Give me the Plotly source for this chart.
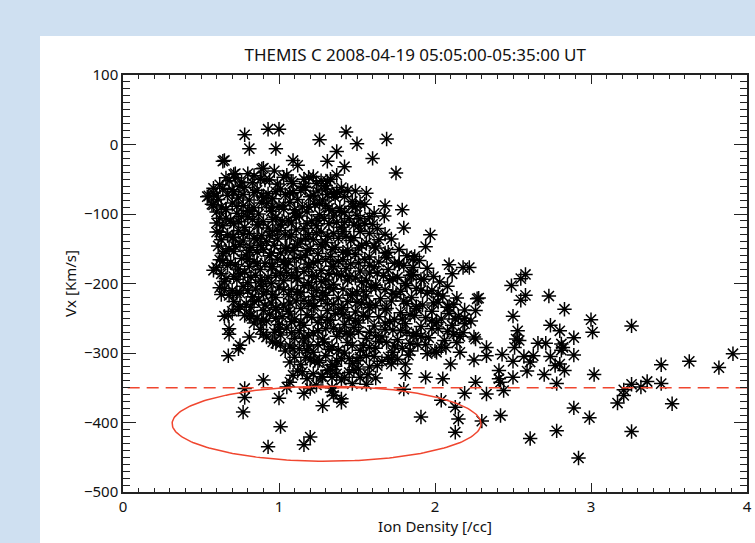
import numpy as np
import plotly.graph_objects as go

TITLE = "THEMIS C 2008-04-19 05:05:00-05:35:00 UT"
X_TITLE = "Ion Density [/cc]"
Y_TITLE = "Vx [Km/s]"
x_ticks = [0, 1, 2, 3, 4]
y_ticks = [-500, -400, -300, -200, -100, 0, 100]

# dense core of the scatter, row by row
density_core = [
    0.72, 0.80, 0.88, 0.97, 1.05, 1.12, 1.19, 1.27,
    0.62, 0.68, 0.75, 0.83, 0.91, 0.99, 1.08, 1.16, 1.24, 1.33, 1.40,
    0.58, 0.64, 0.71, 0.78, 0.86, 0.93, 1.01, 1.09, 1.17, 1.25, 1.31, 1.44,
    0.55, 0.61, 0.67, 0.74, 0.81, 0.89, 0.96, 1.04, 1.12, 1.20, 1.28, 1.36, 1.47,
    0.57, 0.63, 0.70, 0.77, 0.84, 0.92, 1.00, 1.07, 1.15, 1.23, 1.30, 1.39, 1.52,
    0.60, 0.66, 0.73, 0.80, 0.87, 0.95, 1.03, 1.10, 1.18, 1.26, 1.34, 1.42, 1.50,
    0.62, 0.69, 0.76, 0.83, 0.90, 0.98, 1.06, 1.13, 1.21, 1.29, 1.37, 1.45, 1.58,
    0.64, 0.71, 0.78, 0.86, 0.93, 1.01, 1.08, 1.16, 1.24, 1.32, 1.40, 1.48, 1.63,
    0.60, 0.67, 0.74, 0.81, 0.89, 0.96, 1.04, 1.11, 1.19, 1.27, 1.35, 1.43, 1.52, 1.68,
    0.63, 0.70, 0.77, 0.84, 0.92, 0.99, 1.07, 1.14, 1.22, 1.30, 1.38, 1.46, 1.56, 1.72,
    0.61, 0.68, 0.75, 0.82, 0.90, 0.97, 1.05, 1.12, 1.20, 1.28, 1.36, 1.44, 1.53, 1.62, 1.77,
    0.64, 0.71, 0.79, 0.86, 0.94, 1.01, 1.09, 1.17, 1.25, 1.33, 1.41, 1.49, 1.58, 1.68, 1.82,
    0.62, 0.69, 0.76, 0.84, 0.91, 0.99, 1.06, 1.14, 1.22, 1.30, 1.38, 1.46, 1.55, 1.64, 1.74, 1.90,
    0.60, 0.67, 0.74, 0.81, 0.88, 0.96, 1.04, 1.11, 1.19, 1.27, 1.35, 1.43, 1.52, 1.61, 1.70, 1.80, 1.95,
    0.63, 0.71, 0.78, 0.85, 0.93, 1.01, 1.08, 1.16, 1.24, 1.32, 1.40, 1.49, 1.58, 1.67, 1.76, 1.86, 1.99,
    0.65, 0.73, 0.80, 0.88, 0.95, 1.03, 1.11, 1.19, 1.27, 1.35, 1.44, 1.53, 1.62, 1.71, 1.81, 1.91, 2.03,
    0.62, 0.70, 0.77, 0.85, 0.92, 1.00, 1.08, 1.16, 1.24, 1.32, 1.41, 1.50, 1.59, 1.68, 1.78, 1.88, 1.98, 2.08,
    0.68, 0.75, 0.83, 0.90, 0.98, 1.06, 1.14, 1.22, 1.30, 1.38, 1.47, 1.56, 1.65, 1.75, 1.85, 1.95, 2.05, 2.14,
    0.71, 0.79, 0.87, 0.95, 1.03, 1.11, 1.19, 1.27, 1.35, 1.44, 1.53, 1.62, 1.72, 1.82, 1.92, 2.02, 2.12,
    0.74, 0.82, 0.90, 0.98, 1.06, 1.14, 1.22, 1.31, 1.40, 1.49, 1.58, 1.68, 1.78, 1.88, 1.98, 2.08, 2.19,
    0.78, 0.86, 0.94, 1.02, 1.10, 1.18, 1.27, 1.36, 1.45, 1.54, 1.64, 1.74, 1.84, 1.94, 2.04, 2.15,
    0.84, 0.92, 1.00, 1.08, 1.16, 1.25, 1.33, 1.42, 1.51, 1.61, 1.71, 1.81, 1.91, 2.01, 2.11, 2.23,
    0.88, 0.97, 1.05, 1.13, 1.22, 1.30, 1.39, 1.48, 1.58, 1.68, 1.78, 1.88, 1.98, 2.08, 2.18,
    0.92, 1.01, 1.10, 1.19, 1.28, 1.37, 1.46, 1.56, 1.66, 1.76, 1.86, 1.96, 2.06, 2.16, 2.26,
    0.98, 1.07, 1.16, 1.25, 1.34, 1.44, 1.54, 1.64, 1.74, 1.84, 1.94, 2.04, 2.14,
    1.04, 1.13, 1.22, 1.32, 1.42, 1.52, 1.62, 1.73, 1.84, 1.95,
    1.10, 1.20, 1.30, 1.40, 1.50, 1.61, 1.72, 1.83,
    1.14, 1.25, 1.36, 1.47, 1.58, 1.72,
    1.12, 1.22, 1.33, 1.45, 1.57,
    1.18, 1.28, 1.40, 1.52,
    1.24, 1.34, 1.47,
]
vx_core = [
    -48, -42, -50, -38, -44, -30, -47, -52,
    -58, -52, -60, -55, -51, -57, -53, -60, -56, -50, -62,
    -70, -63, -68, -62, -66, -71, -64, -69, -62, -67, -72, -66,
    -74, -79, -73, -77, -80, -74, -78, -72, -79, -75, -80, -76, -82,
    -86, -90, -84, -88, -91, -85, -89, -83, -90, -86, -88, -92, -85,
    -97, -94, -99, -95, -100, -96, -93, -99, -97, -101, -95, -98, -102,
    -106, -110, -104, -108, -111, -105, -109, -103, -110, -106, -112, -107, -104,
    -117, -114, -119, -115, -120, -116, -113, -121, -117, -114, -119, -116, -121,
    -126, -130, -124, -128, -131, -125, -129, -123, -130, -126, -128, -132, -125, -129,
    -137, -134, -139, -135, -140, -136, -133, -139, -137, -141, -135, -138, -142, -136,
    -146, -150, -144, -148, -151, -145, -149, -143, -150, -146, -148, -152, -145, -149, -151,
    -157, -154, -159, -155, -160, -156, -153, -159, -157, -161, -155, -158, -162, -156, -160,
    -166, -170, -164, -168, -171, -165, -169, -163, -170, -166, -168, -172, -165, -169, -171, -167,
    -177, -174, -179, -175, -180, -176, -173, -179, -177, -181, -175, -178, -182, -176, -180, -174, -178,
    -186, -190, -184, -188, -191, -185, -189, -183, -190, -186, -188, -192, -185, -189, -191, -187, -190,
    -197, -194, -199, -195, -200, -196, -193, -199, -197, -201, -195, -198, -202, -196, -200, -194, -198,
    -206, -210, -204, -208, -211, -205, -209, -203, -210, -206, -208, -212, -205, -209, -211, -207, -210, -204,
    -217, -214, -219, -215, -220, -216, -213, -219, -217, -221, -215, -218, -222, -216, -220, -214, -218, -221,
    -226, -230, -224, -228, -231, -225, -229, -223, -230, -226, -228, -232, -225, -229, -231, -227, -230,
    -237, -234, -239, -235, -240, -236, -233, -239, -237, -241, -235, -238, -242, -236, -240, -234, -238,
    -246, -250, -244, -248, -251, -245, -249, -243, -250, -246, -248, -252, -245, -249, -251, -247,
    -257, -254, -259, -255, -260, -256, -253, -259, -257, -261, -255, -258, -262, -256, -260, -254,
    -266, -270, -264, -268, -271, -265, -269, -263, -270, -266, -268, -272, -265, -269, -271,
    -277, -274, -279, -275, -280, -276, -273, -279, -277, -281, -275, -278, -282, -276, -280,
    -286, -290, -284, -288, -291, -285, -289, -283, -290, -286, -288, -292, -285,
    -297, -294, -299, -295, -300, -296, -293, -299, -297, -301,
    -306, -310, -304, -308, -311, -305, -309, -303,
    -317, -314, -319, -315, -320, -316,
    -326, -330, -324, -328, -331,
    -337, -334, -339, -335,
    -346, -350, -344,
]

# additional points filling the dense core between the rows above
density_fill = [
    0.66, 0.76, 0.84, 0.94, 1.03, 1.09, 1.16, 1.22, 1.31, 1.37,
    0.60, 0.70, 0.77, 0.84, 0.90, 0.98, 1.07, 1.14, 1.22, 1.30, 1.35, 1.42, 1.49,
    0.58, 0.66, 0.73, 0.81, 0.89, 0.95, 1.03, 1.10, 1.19, 1.26, 1.32, 1.40, 1.47, 1.55,
    0.60, 0.66, 0.74, 0.80, 0.87, 0.96, 1.02, 1.11, 1.18, 1.25, 1.35, 1.42, 1.52, 1.60,
    0.62, 0.71, 0.77, 0.86, 0.94, 1.00, 1.08, 1.17, 1.24, 1.31, 1.41, 1.48, 1.58, 1.64,
    0.66, 0.72, 0.81, 0.88, 0.95, 1.04, 1.10, 1.18, 1.27, 1.34, 1.44, 1.51, 1.61, 1.70,
    0.64, 0.72, 0.80, 0.86, 0.95, 1.03, 1.10, 1.19, 1.25, 1.34, 1.41, 1.51, 1.58, 1.69, 1.77, 1.86,
    0.66, 0.75, 0.82, 0.89, 0.98, 1.05, 1.12, 1.21, 1.30, 1.37, 1.45, 1.56, 1.63, 1.73, 1.84, 1.93,
    0.65, 0.73, 0.80, 0.89, 0.96, 1.03, 1.12, 1.21, 1.28, 1.35, 1.46, 1.54, 1.62, 1.73, 1.82, 1.91, 2.02,
    0.75, 0.84, 0.91, 0.98, 1.07, 1.16, 1.23, 1.31, 1.41, 1.50, 1.58, 1.69, 1.80, 1.88, 1.99, 2.09,
    0.82, 0.89, 0.98, 1.07, 1.14, 1.21, 1.31, 1.41, 1.49, 1.57, 1.68, 1.79, 1.87, 1.98, 2.09, 2.19,
    0.90, 1.00, 1.08, 1.16, 1.25, 1.35, 1.43, 1.51, 1.62, 1.73, 1.82, 1.91, 2.02, 2.12,
    1.01, 1.09, 1.19, 1.29, 1.38, 1.47, 1.58, 1.69, 1.79, 1.89, 2.00,
    1.07, 1.17, 1.26, 1.34, 1.45, 1.56, 1.66, 1.76,
    1.15, 1.27, 1.37, 1.48, 1.62,
]
vx_fill = [
    -48, -54, -45, -51, -47, -56, -50, -46, -53, -44,
    -74, -65, -72, -69, -76, -68, -70, -66, -73, -64, -71, -75, -67,
    -87, -93, -89, -96, -84, -91, -88, -94, -90, -85, -92, -97, -89, -86,
    -113, -106, -111, -104, -116, -108, -110, -105, -114, -109, -103, -112, -107, -115,
    -126, -133, -129, -136, -131, -124, -130, -135, -127, -132, -125, -134, -128, -137,
    -154, -147, -152, -145, -156, -150, -148, -153, -144, -151, -157, -149, -146, -155,
    -167, -173, -165, -171, -176, -169, -164, -172, -168, -175, -166, -170, -174, -163, -171, -177,
    -193, -186, -191, -197, -188, -184, -192, -189, -195, -187, -190, -196, -185, -193, -188, -194,
    -207, -214, -210, -204, -216, -209, -212, -205, -213, -208, -217, -211, -206, -214, -203, -210, -215,
    -233, -226, -231, -237, -228, -224, -232, -229, -235, -227, -230, -236, -225, -233, -228, -234,
    -247, -254, -250, -244, -256, -249, -252, -245, -253, -248, -257, -251, -246, -254, -243, -250,
    -273, -266, -271, -277, -268, -264, -272, -269, -275, -267, -270, -276, -265, -273,
    -287, -294, -290, -284, -296, -289, -292, -285, -293, -288, -297,
    -313, -306, -311, -317, -308, -304, -312, -309,
    -327, -334, -330, -324, -336,
]

# scattered points around the core
density_sparse = [
    0.78, 0.81, 0.93, 1.00, 0.98, 0.65, 0.90, 1.26, 1.43, 1.50, 1.69, 1.37, 1.31, 1.42, 1.60, 1.75,
    1.37, 1.56, 1.49, 1.68, 1.79, 1.61, 1.675, 1.80, 1.97, 1.94, 1.87, 1.86, 2.09, 2.18, 2.22, 2.11,
    1.77, 1.85, 2.28, 1.51, 1.55,
    2.27, 2.26, 2.13, 2.19, 2.25, 2.33, 2.43, 2.33, 2.25, 2.16, 2.07, 2.01, 2.10, 2.05, 1.94, 1.81,
    2.26, 2.41, 2.41, 2.44, 2.33, 2.19, 2.04, 2.13, 2.15, 2.30, 2.42, 2.13, 1.91, 1.80, 1.56, 1.81,
    1.70, 1.63, 1.51, 1.42, 1.40, 1.52,
    2.49, 2.55, 2.58, 2.58, 2.55, 2.73, 2.50, 2.83, 3.00, 3.01, 3.26, 2.74, 2.80, 2.53, 2.52, 2.54,
    2.66, 2.71, 2.81, 2.89, 2.82, 2.51, 2.50, 2.57, 2.63, 2.61, 2.74, 2.89, 2.81, 2.77, 2.80, 2.83,
    2.59, 2.70, 2.50, 2.42, 2.78, 3.02, 3.45, 3.63, 3.82, 3.91, 3.45, 3.36, 3.32, 3.26, 3.21, 3.21,
    3.17, 3.52, 2.89, 2.99, 3.26, 2.78, 2.61, 2.92,
    0.63, 0.65, 0.70, 0.68, 0.68, 0.81, 0.74, 0.75, 0.675, 0.96, 0.81, 0.90, 0.78, 0.78, 0.77, 1.00,
    1.01, 0.93, 1.16, 1.20, 1.05, 1.09, 1.07, 1.16, 1.20, 1.28, 1.23, 1.18, 1.31, 1.34, 1.34, 1.37,
    1.35, 1.40, 0.58, 0.675, 0.54, 0.58, 0.71, 1.09, 0.89, 0.64, 0.72, 1.37, 1.30,
]
vx_sparse = [
    14, -6, 22, 22, -6, -23, -34, 7, 18, 1, 8, -10, -24, -32, -20, -41,
    -68, -70, -90, -88, -94, -99, -103, -120, -130, -147, -161, -165, -173, -177, -177, -186,
    -172, -189, -221, -117, -114,
    -222, -239, -251, -258, -277, -292, -302, -304, -310, -299, -292, -299, -316, -337, -335, -330,
    -342, -325, -337, -354, -359, -358, -368, -378, -395, -398, -390, -414, -392, -352, -345, -316,
    -306, -318, -323, -335, -366, -306,
    -203, -193, -187, -217, -224, -218, -247, -237, -252, -270, -261, -260, -268, -268, -280, -282,
    -286, -286, -287, -278, -292, -292, -312, -305, -304, -313, -305, -303, -296, -318, -316, -325,
    -326, -331, -335, -342, -344, -331, -317, -312, -321, -301, -344, -341, -349, -345, -353, -361,
    -372, -373, -379, -393, -413, -412, -423, -451,
    -216, -247, -240, -265, -273, -277, -294, -289, -304, -284, -246, -339, -351, -364, -385, -365,
    -406, -435, -432, -421, -349, -332, -342, -358, -351, -376, -311, -296, -325, -335, -356, -311,
    -361, -371, -181, -246, -75, -63, -43, -23, -35, -24, -42, -69, -59,
]

threshold_vx = -350
threshold_x = [0.03, 4.0]
ellipse_center = [1.305, -401.7]
ellipse_radius = [0.99, 54.0]

density = density_core + density_fill + density_sparse
vx = vx_core + vx_fill + vx_sparse

RED = "#f0462f"
BLUE_BG = "#cfe0f1"
FONT = "Noto Sans"
INK = "#222"

fig = go.Figure()
fig.add_trace(go.Scatter(
    x=density, y=vx, mode="markers",
    marker=dict(symbol="asterisk-open", size=12, color="black",
                line=dict(color="black", width=1.5)),
    showlegend=False, hoverinfo="skip",
))
# dashed threshold line
fig.add_trace(go.Scatter(
    x=threshold_x, y=[threshold_vx, threshold_vx], mode="lines",
    line=dict(color=RED, width=1.5, dash="12px,7px"),
    showlegend=False, hoverinfo="skip",
))
# ellipse outline (drawn from its centre and radii)
t = np.linspace(0, 2 * np.pi, 241)
fig.add_trace(go.Scatter(
    x=ellipse_center[0] + ellipse_radius[0] * np.cos(t),
    y=ellipse_center[1] + ellipse_radius[1] * np.sin(t),
    mode="lines", line=dict(color=RED, width=1.5),
    showlegend=False, hoverinfo="skip",
))
# transparent helper trace on the top/right tick axes so that they are drawn
fig.add_trace(go.Scatter(x=[x_ticks[2]], y=[y_ticks[3]], xaxis="x2", yaxis="y2",
                         mode="markers", marker=dict(size=1, opacity=0),
                         showlegend=False, hoverinfo="skip"))

# light-blue bands (top and left) around the white page, as boxed empty annotations
fig.add_annotation(xref="paper", yref="paper", x=-123 / 624, y=492 / 417,
                   xanchor="left", yanchor="top", text=" ", showarrow=False,
                   width=755, height=36, bgcolor=BLUE_BG, borderpad=0, borderwidth=0)
fig.add_annotation(xref="paper", yref="paper", x=-123 / 624, y=492 / 417,
                   xanchor="left", yanchor="top", text=" ", showarrow=False,
                   width=40, height=543, bgcolor=BLUE_BG, borderpad=0, borderwidth=0)

tickfont = dict(family=FONT, size=15, color="#111")
titlefont = dict(family=FONT, size=15, color="#111")

fig.update_layout(
    width=755, height=543,
    margin=dict(l=123, r=8, t=75, b=51, autoexpand=False),
    paper_bgcolor="white", plot_bgcolor="white",
    title=dict(text=TITLE, x=0.55, xanchor="center", y=0.898, yanchor="middle",
               font=dict(family=FONT, size=17, color="#111")),
    xaxis=dict(
        range=[0, 4], tickvals=x_ticks, ticks="inside", ticklen=9, tickwidth=1.2,
        tickcolor=INK, showgrid=False, zeroline=False, showline=True, linecolor=INK,
        linewidth=1.5, mirror="allticks", tickfont=tickfont,
        minor=dict(dtick=0.1, ticks="inside", ticklen=4, tickcolor=INK, tickwidth=1),
        title=dict(text=X_TITLE, font=titlefont, standoff=2),
    ),
    yaxis=dict(
        range=[-500, 100], tickvals=y_ticks, ticks="inside", ticklen=13, tickwidth=1.2,
        tickcolor=INK, showgrid=False, zeroline=False, showline=True, linecolor=INK,
        linewidth=1.5, mirror="allticks", tickfont=tickfont,
        minor=dict(dtick=10, ticks="inside", ticklen=7, tickcolor=INK, tickwidth=1),
        title=dict(text=Y_TITLE, font=titlefont, standoff=4),
    ),
    xaxis2=dict(
        overlaying="x", side="top", anchor="y", range=[0, 4], tickvals=x_ticks,
        ticks="inside", ticklen=9, tickwidth=1.2, tickcolor=INK,
        showticklabels=False, showgrid=False, zeroline=False,
        showline=True, linecolor=INK, linewidth=1.5,
        minor=dict(dtick=0.1, ticks="inside", ticklen=4, tickcolor=INK, tickwidth=1),
    ),
    yaxis2=dict(
        overlaying="y", side="right", anchor="x", range=[-500, 100], tickvals=y_ticks,
        ticks="inside", ticklen=13, tickwidth=1.2, tickcolor=INK,
        showticklabels=False, showgrid=False, zeroline=False,
        showline=True, linecolor=INK, linewidth=1.5,
        minor=dict(dtick=10, ticks="inside", ticklen=7, tickcolor=INK, tickwidth=1),
    ),
)
fig.write_html("out.html")
